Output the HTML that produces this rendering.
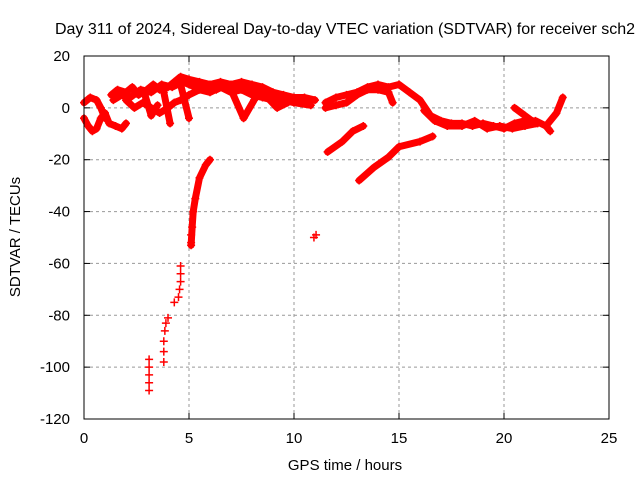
<!DOCTYPE html>
<html><head><meta charset="utf-8"><style>
body{margin:0;background:#fff}
svg{display:block;font-family:"Liberation Sans",sans-serif}
</style></head><body>
<svg id="chart" width="640" height="480" viewBox="0 0 640 480">
<text x="345" y="34" font-size="16" text-anchor="middle">Day 311 of 2024, Sidereal Day-to-day VTEC variation (SDTVAR) for receiver sch2</text>
<text x="345" y="470" font-size="15" text-anchor="middle">GPS time / hours</text>
<text transform="translate(20,237) rotate(-90)" font-size="15" text-anchor="middle">SDTVAR / TECUs</text>
<g id="grid"></g><g id="series"></g><g id="axes"></g>
</svg>
<script>
const xTicks=[0,5,10,15,20,25];
const yTicks=[20,0,-20,-40,-60,-80,-100,-120];
const traceA=[[0,-4],[0.2,-7],[0.4,-9],[0.6,-8],[0.8,-4],[1.0,-2],[1.2,-6],[1.5,-7],[1.8,-8],[2.0,-6]];
const traceB=[[0,2],[0.3,4],[0.6,3],[0.8,0],[1.0,-4]];
const traceC=[[1.3,5],[1.6,7],[2.0,6],[2.3,8],[2.6,5],[3.0,7],[3.3,9],[3.6,7],[4.0,8],[4.3,10],[4.6,12],[5.0,11],[5.5,10],[6.0,9],[6.5,10],[7.0,9],[7.5,10],[8.0,9],[8.5,8],[9,6],[9.5,5],[10,4],[10.5,4],[11,3]];
const traceC2=[[1.4,3],[1.8,5],[2.2,4],[2.7,7],[3.2,6],[3.7,9],[4.2,8],[4.7,10],[5.3,8],[5.8,9],[6.3,7],[6.8,9],[7.3,8],[7.8,8],[8.3,7],[8.8,5],[9.3,5],[9.8,3],[10.3,3]];
const traceD=[[2.0,3],[2.4,0],[2.8,2],[3.2,0],[3.6,-2],[4.0,0],[4.3,2],[4.6,3],[5,5],[5.5,7],[6,6],[6.5,8],[7,6],[7.5,7],[8,5],[8.5,4],[9,3],[9.5,3],[10,2],[10.8,1]];
const spike1=[[3.8,6],[4.1,-6]];
const spike2=[[4.6,9],[5.0,-4]];
const spike3=[[7.0,7],[7.6,-4],[8.1,3]];
const spike4=[[8.5,6],[9.2,0],[9.7,2]];
const spike7=[[2.9,5],[3.2,-3],[3.5,1]];
const traceE=[[11.5,2],[12,4],[12.5,5],[13,6],[13.5,8],[14,9],[14.5,8],[15,9],[15.5,6],[16,3],[16.5,-3],[17,-5],[17.5,-6],[18,-6],[18.5,-7],[19,-6],[19.5,-7],[20,-8],[20.5,-6],[21,-5],[21.5,-5],[22,-7],[22.5,-2],[22.8,4]];
const traceE2=[[16.2,-1],[16.7,-5],[17.3,-7],[18,-7],[18.6,-5],[19.2,-8],[19.8,-7],[20.4,-8],[21,-7],[21.6,-6]];
const traceF=[[11.5,0],[12,1],[12.5,2],[13,5],[13.5,7],[14,7],[14.5,6],[14.7,2]];
const spike5=[[20.5,0],[21,-3],[21.5,-6]];
const spike6=[[22,-7],[22.2,-9]];
const traceG=[[11.6,-17],[12.3,-13],[12.8,-9],[13.3,-7]];
const traceH=[[13.1,-28],[13.8,-23],[14.5,-19],[15,-15],[16,-13],[16.6,-11]];
const traceI=[[5.1,-53],[5.15,-46],[5.2,-40],[5.3,-35],[5.5,-27],[5.8,-22],[6.0,-20]];
const column1=[[3.1,-109],[3.1,-106],[3.1,-103],[3.1,-100],[3.1,-97]];
const column2=[[3.8,-98],[3.8,-94],[3.8,-90],[3.85,-86],[3.9,-83],[4.0,-81],[4.3,-75]];
const column3=[[4.5,-73],[4.55,-70],[4.6,-67],[4.6,-64],[4.6,-61],[5.1,-52],[5.1,-49]];
const isolated=[[10.95,-50],[11.05,-49]];
const traces=[traceA,traceB,traceC,traceC2,traceD,spike1,spike2,spike3,spike4,spike7,traceE,traceE2,traceF,spike5,spike6,traceG,traceH,traceI];
const markerSets=[column1,column2,column3,isolated];
const X0=84,X1=609,Y0=56,Y1=419;
const sx=h=>X0+(h-0)/25*(X1-X0);
const sy=v=>Y0+(20-v)/140*(Y1-Y0);
const NS="http://www.w3.org/2000/svg";
function mk(tag,attrs,parent){const e=document.createElementNS(NS,tag);for(const k in attrs)e.setAttribute(k,attrs[k]);parent.appendChild(e);return e;}
const grid=document.getElementById('grid'),axes=document.getElementById('axes'),ser=document.getElementById('series');
xTicks.forEach(t=>{
 if(t>0&&t<25){const l=mk('line',{x1:sx(t),x2:sx(t),y1:Y0,y2:Y1,stroke:'#999','stroke-dasharray':'3,3'},grid);
 
 }
 const tl=mk('text',{x:sx(t),y:Y1+24,'font-size':15,'text-anchor':'middle'},axes);tl.textContent=t;
 
 
 mk('line',{x1:sx(t),x2:sx(t),y1:Y1,y2:Y1-6,stroke:'#000'},axes);
 mk('line',{x1:sx(t),x2:sx(t),y1:Y0,y2:Y0+6,stroke:'#000'},axes);
});
yTicks.forEach(t=>{
 if(t<20&&t>-120){const l=mk('line',{x1:X0,x2:X1,y1:sy(t),y2:sy(t),stroke:'#999','stroke-dasharray':'3,3'},grid);
 
 }
 const tl=mk('text',{x:X0-14,y:sy(t)+5,'font-size':15,'text-anchor':'end'},axes);tl.textContent=t;
 
 
 mk('line',{x1:X0,x2:X0+6,y1:sy(t),y2:sy(t),stroke:'#000'},axes);
 mk('line',{x1:X1,x2:X1-6,y1:sy(t),y2:sy(t),stroke:'#000'},axes);
});
const fr=mk('rect',{x:X0,y:Y0,width:X1-X0,height:Y1-Y0,fill:'none',stroke:'#000'},axes);


function plus(h,v){const x=sx(h),y=sy(v);
 const p=mk('path',{d:`M${x-4},${y}H${x+4}M${x},${y-4}V${y+4}`,stroke:'#f00','stroke-width':1.5},ser);
 
 }
traces.forEach(tr=>{
 const pl=mk('polyline',{points:tr.map(p=>sx(p[0])+','+sy(p[1])).join(' '),fill:'none',stroke:'#f00','stroke-width':7,'stroke-linejoin':'round','stroke-linecap':'round'},ser);
 
 
 tr.forEach(p=>plus(p[0],p[1]));
});
markerSets.forEach(ms=>ms.forEach(p=>plus(p[0],p[1])));
</script>
</body></html>
